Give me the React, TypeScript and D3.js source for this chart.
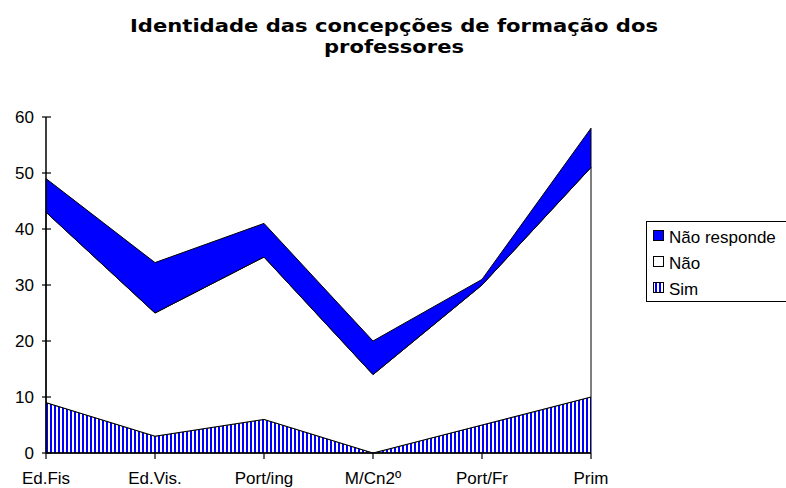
import React from "react";
import * as d3 from "d3";

const categories = ["Ed.Fis", "Ed.Vis.", "Port/ing", "M/Cn2º", "Port/Fr", "Prim"];
const simValues = [9, 3, 6, 0, 5, 10];
const naoValues = [34, 22, 29, 14, 25, 41];
const naoRespondeValues = [6, 9, 6, 6, 1, 7];
const seriesNames = ["Sim", "Não", "Não responde"];
const yTicks = [0, 10, 20, 30, 40, 50, 60];
const titleLines = ["Identidade das concepções de formação dos", "professores"];

export default function App() {
  const W = 786, H = 488;
  const x = d3.scalePoint<string>().domain(categories).range([46, 591]);
  const y = d3.scaleLinear().domain([0, 60]).range([453, 117]);

  const rows = categories.map((c, i) => ({
    cat: c,
    Sim: simValues[i],
    "Não": naoValues[i],
    "Não responde": naoRespondeValues[i],
  }));
  const stack = d3.stack<any>().keys(seriesNames);
  const layers = stack(rows);
  const area = d3
    .area<any>()
    .x((d) => x(d.data.cat) as number)
    .y0((d) => y(d[0]))
    .y1((d) => y(d[1]));
  const fills = ["url(#stripes)", "#ffffff", "#0000ff"];

  const font = "'Liberation Sans', Arial, sans-serif";
  const titleFont = "'DejaVu Sans', Verdana, sans-serif";
  const legendItems = [
    { name: "Não responde", fill: "#0000ff" },
    { name: "Não", fill: "#ffffff" },
    { name: "Sim", fill: "url(#stripesL)" },
  ];
  const legendBaselines = [243, 269, 295];
  const titleLengths = [528, 140];
  const titleBaselines = [32, 53];

  return (
    <svg
      width={W}
      height={H}
      style={{ position: "absolute", left: 0, top: 0, background: "#fff" }}
    >
      <defs>
        <pattern id="stripes" patternUnits="userSpaceOnUse" width={4} height={4} x={46}>
          <rect x={0} y={0} width={4} height={4} fill="#fff" />
          <rect x={0} y={0} width={2} height={4} fill="#0000ff" />
        </pattern>
        <pattern id="stripesL" patternUnits="userSpaceOnUse" width={4} height={4} x={655}>
          <rect x={0} y={0} width={4} height={4} fill="#fff" />
          <rect x={0} y={0} width={2} height={4} fill="#0000ff" />
        </pattern>
      </defs>
      {titleLines.map((t, i) => (
        <text
          key={i}
          x={394}
          y={titleBaselines[i]}
          textAnchor="middle"
          fontFamily={titleFont}
          fontWeight="bold"
          fontSize={17}
          textLength={titleLengths[i]}
          lengthAdjust="spacingAndGlyphs"
        >
          {t}
        </text>
      ))}

      {layers.map((layer, i) => (
        <path
          key={layer.key}
          d={area(layer as any) || ""}
          fill={fills[i]}
          stroke="#000"
          strokeWidth={1}
          strokeLinejoin="round"
        />
      ))}

      {/* y axis */}
      <line x1={46} x2={46} y1={y(60)} y2={y(0)} stroke="#000" strokeWidth={1.5} />
      {yTicks.map((t) => (
        <g key={t}>
          <line x1={42} x2={51} y1={y(t)} y2={y(t)} stroke="#000" strokeWidth={1.2} />
          <text
            x={34}
            y={y(t) + 6}
            textAnchor="end"
            fontFamily={font}
            fontSize={17}
          >
            {t}
          </text>
        </g>
      ))}
      {/* x axis */}
      <line x1={46} x2={591} y1={y(0)} y2={y(0)} stroke="#000" strokeWidth={1.5} />
      {categories.map((c) => (
        <g key={c}>
          <line
            x1={x(c) as number}
            x2={x(c) as number}
            y1={y(0)}
            y2={y(0) + 6}
            stroke="#000"
            strokeWidth={1.2}
          />
          <text
            x={x(c) as number}
            y={484}
            textAnchor="middle"
            fontFamily={font}
            fontSize={17}
          >
            {c}
          </text>
        </g>
      ))}

      {/* legend */}
      <rect x={646.5} y={221.5} width={150} height={80} fill="#fff" stroke="#000" strokeWidth={1} />
      {legendItems.map((it, i) => (
        <g key={it.name}>
          <rect
            x={653.5}
            y={legendBaselines[i] - 12.5}
            width={10}
            height={10}
            fill={it.fill}
            stroke="#000"
            strokeWidth={1}
          />
          <text x={669} y={legendBaselines[i]} fontFamily={font} fontSize={17}>
            {it.name}
          </text>
        </g>
      ))}
    </svg>
  );
}
